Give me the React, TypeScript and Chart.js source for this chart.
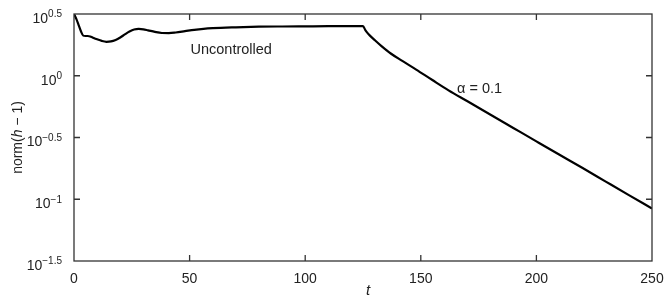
import React, { useEffect, useRef } from "react";
import { Chart, registerables } from "chart.js";

Chart.register(...registerables);

// time samples
const tValues = [
  0, 1, 2, 3, 4, 5, 6, 7, 8,
  10, 12, 14, 16, 18, 20, 22, 24, 26, 28, 30, 32,
  35, 38, 41, 44, 48, 52, 56, 60,
  70, 80, 90, 100, 110, 120, 125,
  126, 127, 128, 130, 133, 137, 142, 148,
  155, 162, 170, 180, 190, 200, 210, 220, 230, 240, 250,
];
// norm(h - 1)
const normValues = [
  3.162, 2.884, 2.57, 2.291, 2.113, 2.099, 2.099, 2.08, 2.042,
  1.972, 1.914, 1.884, 1.897, 1.95, 2.042, 2.163, 2.28, 2.366, 2.393, 2.377, 2.333,
  2.265, 2.218, 2.213, 2.239, 2.296, 2.355, 2.399, 2.427,
  2.466, 2.495, 2.506, 2.512, 2.518, 2.518, 2.518,
  2.344, 2.213, 2.113, 1.95, 1.738, 1.514, 1.318, 1.122,
  0.923, 0.762, 0.624, 0.486, 0.378, 0.294, 0.229, 0.179, 0.139, 0.108, 0.0841,
];

const xTicks = [0, 50, 100, 150, 200, 250];
const yTickExps = ["0.5", "0", "\u22120.5", "\u22121", "\u22121.5"];
const yTickValues = [3.1623, 1, 0.31623, 0.1, 0.031623];

const labelUncontrolled = { text: "Uncontrolled", t: 68, v: 1.62 };
const labelAlpha = { text: "\u03B1 = 0.1", t: 165.7, v: 0.785 };

const FONT = '"Liberation Sans", Arial, Helvetica, sans-serif';
const INK = "#222";

const decorPlugin = {
  id: "decor",
  afterDatasetsDraw(chart: any) {
    const { ctx, chartArea: a, scales } = chart;
    const xs = scales.x;
    const ys = scales.y;
    ctx.save();
    // frame
    ctx.strokeStyle = "#333";
    ctx.lineWidth = 1.3;
    ctx.strokeRect(a.left, a.top, a.right - a.left, a.bottom - a.top);
    // inward ticks
    const tl = 6;
    ctx.beginPath();
    xTicks.forEach((v) => {
      const px = xs.getPixelForValue(v);
      if (Math.abs(px - a.left) < 2 || Math.abs(px - a.right) < 2) return;
      ctx.moveTo(px, a.bottom);
      ctx.lineTo(px, a.bottom - tl);
      ctx.moveTo(px, a.top);
      ctx.lineTo(px, a.top + tl);
    });
    yTickValues.forEach((v) => {
      const py = ys.getPixelForValue(v);
      if (Math.abs(py - a.top) < 2 || Math.abs(py - a.bottom) < 2) return;
      ctx.moveTo(a.left, py);
      ctx.lineTo(a.left + tl, py);
      ctx.moveTo(a.right, py);
      ctx.lineTo(a.right - tl, py);
    });
    ctx.stroke();

    // y tick labels with superscripts
    ctx.fillStyle = INK;
    ctx.textBaseline = "alphabetic";
    yTickValues.forEach((v, i) => {
      const py = ys.getPixelForValue(v);
      const right = a.left - 12;
      ctx.font = `10px ${FONT}`;
      const sup = yTickExps[i];
      const sw = ctx.measureText(sup).width;
      ctx.textAlign = "left";
      ctx.fillText(sup, right - sw, py + 3.5);
      ctx.font = `14px ${FONT}`;
      ctx.textAlign = "right";
      ctx.fillText("10", right - sw, py + 9);
    });

    // y axis title
    ctx.save();
    ctx.translate(18, (a.top + a.bottom) / 2);
    ctx.rotate(-Math.PI / 2);
    const parts = [
      { s: "norm(", f: `14px ${FONT}` },
      { s: "h", f: `italic 14px ${FONT}` },
      { s: " \u2212 1)", f: `14px ${FONT}` },
    ];
    let total = 0;
    parts.forEach((p) => {
      ctx.font = p.f;
      total += ctx.measureText(p.s).width;
    });
    let x = -total / 2;
    ctx.textAlign = "left";
    ctx.textBaseline = "middle";
    parts.forEach((p) => {
      ctx.font = p.f;
      ctx.fillText(p.s, x, 0);
      x += ctx.measureText(p.s).width;
    });
    ctx.restore();

    // x axis title
    ctx.font = `italic 15px ${FONT}`;
    ctx.textAlign = "center";
    ctx.textBaseline = "alphabetic";
    ctx.fillText("t", (a.left + a.right) / 2 + 5, 295);

    // annotations
    ctx.font = `14.5px ${FONT}`;
    ctx.textAlign = "center";
    ctx.textBaseline = "middle";
    ctx.fillText(
      labelUncontrolled.text,
      xs.getPixelForValue(labelUncontrolled.t),
      ys.getPixelForValue(labelUncontrolled.v)
    );
    ctx.textAlign = "left";
    ctx.fillText(
      labelAlpha.text,
      xs.getPixelForValue(labelAlpha.t),
      ys.getPixelForValue(labelAlpha.v)
    );
    ctx.restore();
  },
};

export default function App() {
  const ref = useRef<HTMLCanvasElement>(null);
  useEffect(() => {
    if (!ref.current) return;
    const chart = new Chart(ref.current, {
      type: "line",
      data: {
        datasets: [
          {
            data: tValues.map((t, i) => ({ x: t, y: normValues[i] })),
            borderColor: "#000",
            borderWidth: 2.2,
            pointRadius: 0,
            cubicInterpolationMode: "monotone",
            fill: false,
          },
        ],
      },
      options: {
        responsive: false,
        animation: false,
        events: [],
        layout: { padding: { top: 14, right: 13, left: 0, bottom: 0 } },
        plugins: { legend: { display: false }, tooltip: { enabled: false } },
        scales: {
          x: {
            type: "linear",
            min: 0,
            max: 250,
            afterBuildTicks: (s: any) => {
              s.ticks = xTicks.map((v) => ({ value: v }));
            },
            afterFit: (s: any) => {
              s.height = 38;
              s.paddingLeft = 0;
              s.paddingRight = 0;
            },
            grid: { display: false, drawTicks: false },
            border: { display: false },
            ticks: {
              color: INK,
              padding: 10,
              maxRotation: 0,
              font: { family: FONT, size: 14 },
            },
          },
          y: {
            type: "logarithmic",
            min: Math.pow(10, -1.5),
            max: Math.pow(10, 0.5),
            afterBuildTicks: (s: any) => {
              s.ticks = yTickValues.map((v) => ({ value: v }));
            },
            afterFit: (s: any) => {
              s.width = 74;
              s.paddingTop = 0;
              s.paddingBottom = 0;
            },
            grid: { display: false, drawTicks: false },
            border: { display: false },
            ticks: { display: false },
          },
        },
      },
      plugins: [decorPlugin],
    } as any);
    return () => chart.destroy();
  }, []);
  return (
    <div style={{ position: "fixed", left: 0, top: 0, width: 665, height: 299, background: "#fff" }}>
      <canvas ref={ref} width={665} height={299} />
    </div>
  );
}
